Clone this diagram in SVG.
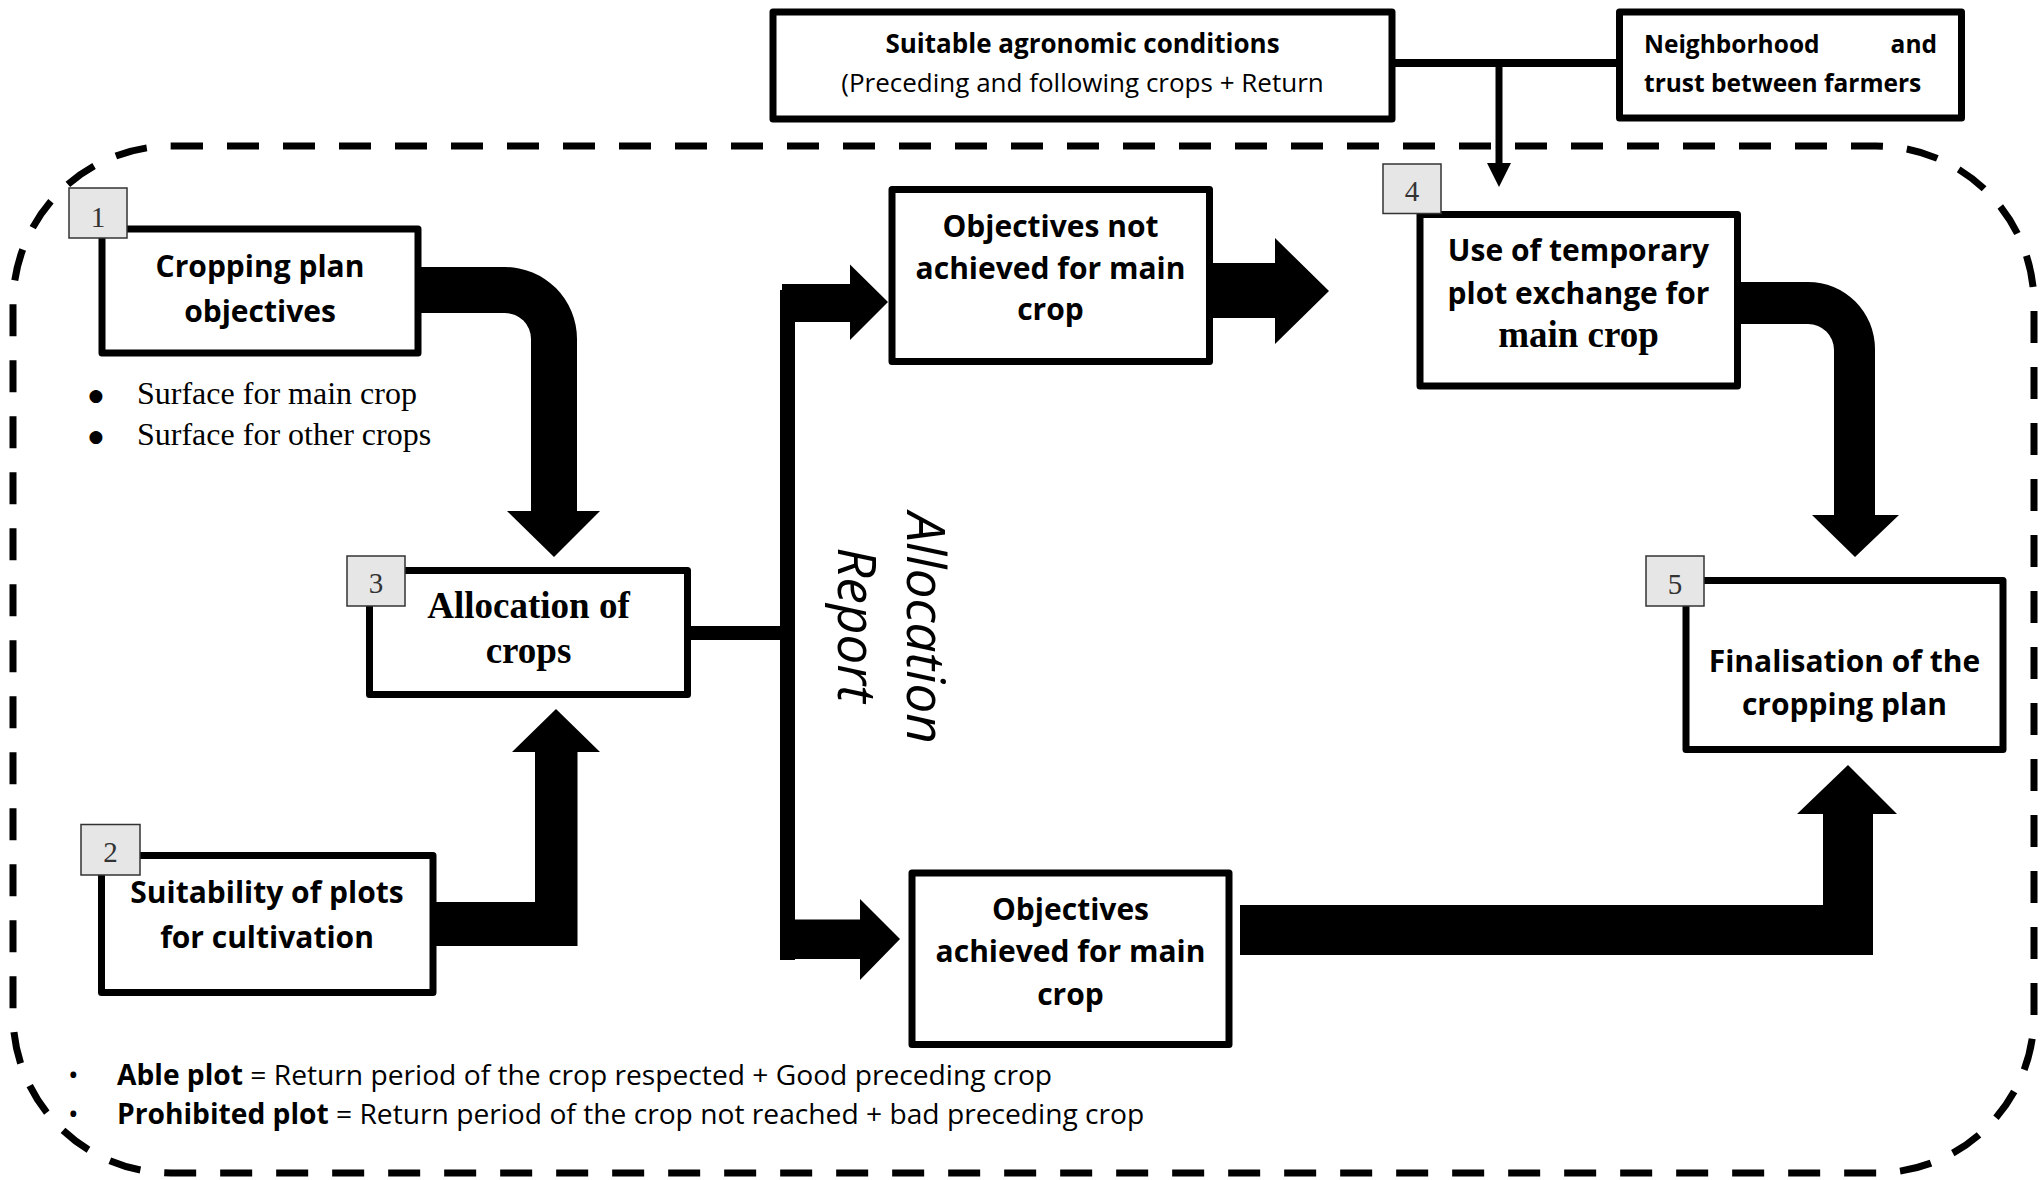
<svg xmlns="http://www.w3.org/2000/svg" width="2042" height="1180" viewBox="0 0 2042 1180">
<style>
.box{fill:#fff;stroke:#000;stroke-width:7;stroke-linejoin:round}
.badge{fill:#e6e6e6;stroke:#333;stroke-width:1.5}
.num{font-family:"Liberation Serif","Times New Roman",serif;font-size:29px;fill:#333;text-anchor:middle}
.t{font-family:"Open Sans","Noto Sans",sans-serif;font-weight:bold;font-size:30px;fill:#000;text-anchor:middle}
.ts{font-family:"Liberation Serif","Times New Roman",serif;font-weight:bold;font-size:37px;fill:#000;text-anchor:middle}
.top{font-family:"Open Sans","Noto Sans",sans-serif;font-size:26px;fill:#000}
.nb{font-family:"Open Sans","Noto Sans",sans-serif;font-size:24.5px;font-weight:bold;fill:#000}
.b{font-weight:bold}
.list{font-family:"Liberation Serif","Times New Roman",serif;font-size:32px;fill:#000}
.dot{font-family:"DejaVu Sans",sans-serif;font-size:17px;fill:#000;text-anchor:middle}
.note{font-family:"Open Sans","Noto Sans",sans-serif;font-size:28.2px;fill:#000}
.rot{font-family:"Open Sans","Noto Sans",sans-serif;font-style:italic;font-size:53px;fill:#000;text-anchor:middle}
.arr{fill:#000;stroke:none}
</style>
<rect width="2042" height="1180" fill="#fff"/>

<!-- dashed boundary -->
<rect x="13" y="146" width="2021" height="1027" rx="158" ry="158" fill="none" stroke="#000" stroke-width="7" stroke-dasharray="32 24"/>

<!-- connectors -->
<g id="connectors">
  <line x1="1395" y1="63" x2="1616" y2="63" stroke="#000" stroke-width="8"/>
  <line x1="1499" y1="63" x2="1499" y2="166" stroke="#000" stroke-width="7"/>
  <polygon class="arr" points="1487,163 1511,163 1499,187"/>
  <path class="arr" d="M418 267 H505 A72 72 0 0 1 577 339 V511 H600 L554 557 L507 511 H531 V339 A26 26 0 0 0 505 313 H418 Z"/>
  <path class="arr" d="M433 902 H535 V752 H512 L556 709 L600 752 H577.5 V946 H433 Z"/>
  <rect class="arr" x="687" y="626" width="95" height="14"/>
  <rect class="arr" x="780" y="290" width="15" height="670"/>
  <path class="arr" d="M782 284 H850 V264.5 L888 302 L850 340 V322 H782 Z"/>
  <path class="arr" d="M780 919.5 H860 V899 L900 939 L860 980 V959 H780 Z"/>
  <path class="arr" d="M1209 263 H1275 V238 L1329 291 L1275 344 V318 H1209 Z"/>
  <path class="arr" d="M1737 282 H1808 A67 67 0 0 1 1875 349 V515 H1899 L1855 557 L1812 515 H1834 V350 A26 26 0 0 0 1808 324 H1737 Z"/>
  <path class="arr" d="M1240 905 H1823 V814 H1797 L1848 765 L1897 814 H1873 V955 H1240 Z"/>
</g>

<!-- top condition boxes -->
<g id="agronomic">
  <rect class="box" x="773" y="12" width="619" height="107"/>
  <text class="top b" x="1082.5" y="53" text-anchor="middle">Suitable agronomic conditions</text>
  <text class="top" x="1082.5" y="92" text-anchor="middle">(Preceding and following crops + Return</text>
</g>
<g id="neighborhood">
  <rect class="box" x="1619.5" y="12" width="342" height="106"/>
  <text class="nb" x="1644" y="53">Neighborhood</text>
  <text class="nb" x="1937" y="53" text-anchor="end">and</text>
  <text class="nb" x="1644" y="92">trust between farmers</text>
</g>

<!-- node 1 -->
<g id="node1">
  <rect class="box" x="102" y="229" width="316" height="124"/>
  <rect class="badge" x="69" y="188" width="58" height="50"/>
  <text class="num" x="98" y="227">1</text>
  <text class="t" x="260" y="277">Cropping plan</text>
  <text class="t" x="260" y="322">objectives</text>
  <text class="dot" x="96" y="401">●</text>
  <text class="list" x="137" y="404">Surface for main crop</text>
  <text class="dot" x="96" y="442">●</text>
  <text class="list" x="137" y="445">Surface for other crops</text>
</g>

<!-- node 2 -->
<g id="node2">
  <rect class="box" x="101.5" y="855.5" width="331.5" height="137"/>
  <rect class="badge" x="81" y="824.5" width="59" height="50.5"/>
  <text class="num" x="110.5" y="862">2</text>
  <text class="t" x="267" y="903">Suitability of plots</text>
  <text class="t" x="267" y="948">for cultivation</text>
</g>

<!-- node 3 -->
<g id="node3">
  <rect class="box" x="369.5" y="570.5" width="318" height="124"/>
  <rect class="badge" x="347" y="556" width="58" height="50"/>
  <text class="num" x="376" y="593">3</text>
  <text class="ts" x="528.5" y="618">Allocation of</text>
  <text class="ts" x="528.5" y="663">crops</text>
</g>

<!-- allocation report label -->
<g id="allocation-report">
  <text class="rot" transform="translate(907 628) rotate(90)">Allocation</text>
  <text class="rot" transform="translate(838 625) rotate(90)">Report</text>
</g>

<!-- objectives not achieved -->
<g id="not-achieved">
  <rect class="box" x="892" y="189.5" width="317.5" height="172"/>
  <text class="t" x="1050.5" y="237">Objectives not</text>
  <text class="t" x="1050.5" y="279">achieved for main</text>
  <text class="t" x="1050.5" y="320">crop</text>
</g>

<!-- objectives achieved -->
<g id="achieved">
  <rect class="box" x="912" y="873" width="317" height="171.5"/>
  <text class="t" x="1070.5" y="920">Objectives</text>
  <text class="t" x="1070.5" y="962">achieved for main</text>
  <text class="t" x="1070.5" y="1004.5">crop</text>
</g>

<!-- node 4 -->
<g id="node4">
  <rect class="box" x="1420" y="214.5" width="317.5" height="171.5"/>
  <rect class="badge" x="1383" y="164" width="58" height="49.5"/>
  <text class="num" x="1412" y="201">4</text>
  <text class="t" x="1578.5" y="261">Use of temporary</text>
  <text class="t" x="1578.5" y="304">plot exchange for</text>
  <text class="ts" x="1578.5" y="347">main crop</text>
</g>

<!-- node 5 -->
<g id="node5">
  <rect class="box" x="1686" y="580.5" width="317" height="169"/>
  <rect class="badge" x="1646" y="556" width="58" height="50"/>
  <text class="num" x="1675" y="594">5</text>
  <text class="t" x="1844.5" y="672">Finalisation of the</text>
  <text class="t" x="1844.5" y="715">cropping plan</text>
</g>

<!-- legend notes -->
<g id="notes">
  <text class="note" x="68" y="1085">•</text>
  <text class="note" x="117" y="1085"><tspan class="b">Able plot</tspan> = Return period of the crop respected + Good preceding crop</text>
  <text class="note" x="68" y="1124">•</text>
  <text class="note" x="117" y="1124"><tspan class="b">Prohibited plot</tspan> = Return period of the crop not reached + bad preceding crop</text>
</g>
</svg>
